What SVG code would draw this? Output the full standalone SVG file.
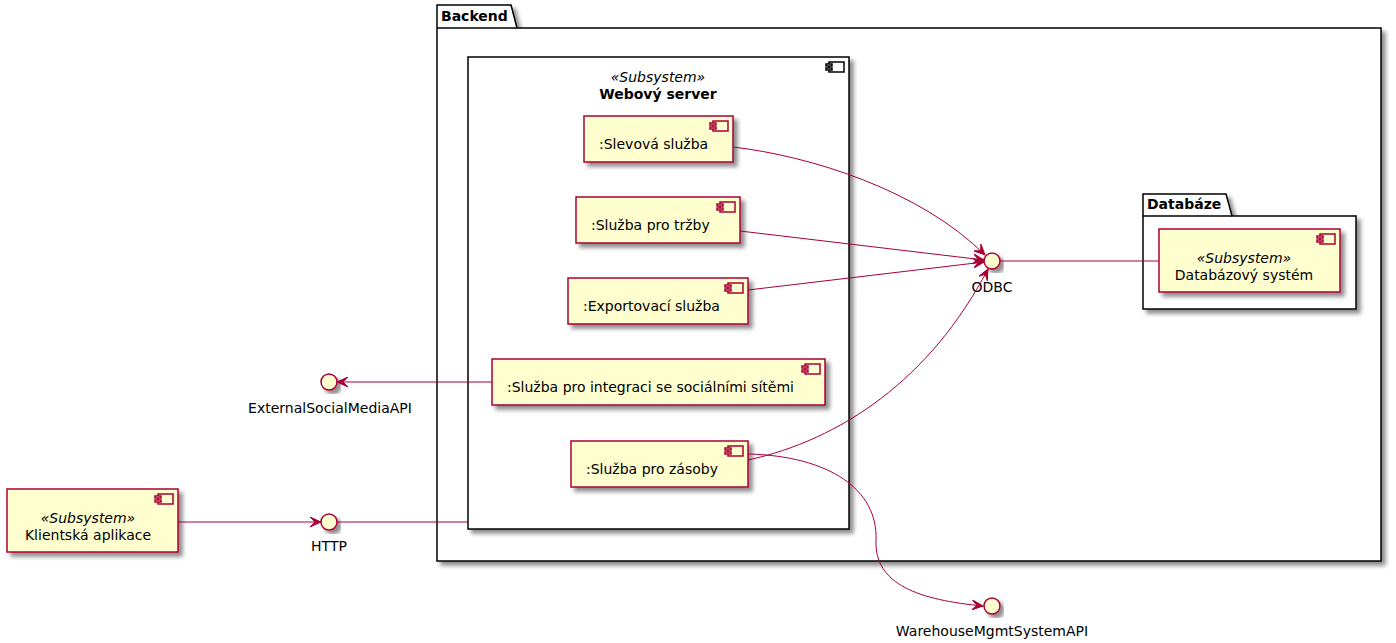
<svg xmlns="http://www.w3.org/2000/svg" width="1396" height="643" viewBox="0 0 1396 643">
<defs>
<filter id="sh" x="-10%" y="-10%" width="130%" height="130%">
<feGaussianBlur in="SourceAlpha" stdDeviation="2"/>
<feOffset dx="4" dy="4" result="b"/>
<feComponentTransfer><feFuncA type="linear" slope="0.45"/></feComponentTransfer>
<feMerge><feMergeNode/><feMergeNode in="SourceGraphic"/></feMerge>
</filter>
<marker id="arr" viewBox="0 0 12 10" refX="11" refY="5" markerWidth="12" markerHeight="10" markerUnits="userSpaceOnUse" orient="auto">
<path d="M0,0 L11,5 L0,10 L5,5 Z" fill="#A80036" stroke="#A80036" stroke-width="1"/>
</marker>
</defs>
<style>
text{font-family:"DejaVu Sans","Liberation Sans",sans-serif;font-size:14px;fill:#000}
.b{font-weight:bold}
.i{font-style:italic}
.pkg{fill:#fff;stroke:#000;stroke-width:1.5}
.cmp{fill:#FEFECE;stroke:#A80036;stroke-width:1.5}
.ic{fill:#FEFECE;stroke:#A80036;stroke-width:1.5}
.icb{fill:#fff;stroke:#000;stroke-width:1.5}
.ifc{fill:#FEFECE;stroke:#A80036;stroke-width:1.5}
.ln{fill:none;stroke:#A80036;stroke-width:1}
</style>

<g id="backend">
<path class="pkg" filter="url(#sh)" d="M437,5 L511,5 L517,28 L1381,28 L1381,561 L437,561 Z"/>
<line x1="437" y1="28" x2="517" y2="28" stroke="#000" stroke-width="1.5"/>
<text class="b" x="441" y="21">Backend</text>
</g>

<g id="webovy-server">
<rect class="pkg" filter="url(#sh)" x="468" y="57" width="381" height="472"/>
<rect class="icb" x="829" y="62" width="15" height="10"/>
<rect class="icb" x="826" y="64" width="6" height="2"/>
<rect class="icb" x="826" y="68" width="6" height="2"/>
<text class="i" x="658" y="82" text-anchor="middle">«Subsystem»</text>
<text class="b" x="658" y="99" text-anchor="middle">Webový server</text>
</g>

<g id="databaze">
<path class="pkg" filter="url(#sh)" d="M1143,194 L1226,194 L1232,216 L1356,216 L1356,309 L1143,309 Z"/>
<line x1="1143" y1="216" x2="1232" y2="216" stroke="#000" stroke-width="1.5"/>
<text class="b" x="1147" y="209">Databáze</text>
</g>

<g id="slevova">
<rect class="cmp" filter="url(#sh)" x="584" y="116" width="149" height="46"/>
<rect class="ic" x="713" y="121" width="15" height="10"/>
<rect class="ic" x="710" y="123" width="6" height="2"/>
<rect class="ic" x="710" y="127" width="6" height="2"/>
<text x="599" y="149">:Slevová služba</text>
</g>

<g id="trzby">
<rect class="cmp" filter="url(#sh)" x="576" y="197" width="164" height="46"/>
<rect class="ic" x="720" y="202" width="15" height="10"/>
<rect class="ic" x="717" y="204" width="6" height="2"/>
<rect class="ic" x="717" y="208" width="6" height="2"/>
<text x="591" y="230">:Služba pro tržby</text>
</g>

<g id="exportovaci">
<rect class="cmp" filter="url(#sh)" x="568" y="278" width="180" height="46"/>
<rect class="ic" x="728" y="283" width="15" height="10"/>
<rect class="ic" x="725" y="285" width="6" height="2"/>
<rect class="ic" x="725" y="289" width="6" height="2"/>
<text x="583" y="311">:Exportovací služba</text>
</g>

<g id="integrace">
<rect class="cmp" filter="url(#sh)" x="492" y="359" width="333" height="46"/>
<rect class="ic" x="805" y="364" width="15" height="10"/>
<rect class="ic" x="802" y="366" width="6" height="2"/>
<rect class="ic" x="802" y="370" width="6" height="2"/>
<text x="507" y="392">:Služba pro integraci se sociálními sítěmi</text>
</g>

<g id="zasoby">
<rect class="cmp" filter="url(#sh)" x="571" y="441" width="177" height="46"/>
<rect class="ic" x="728" y="446" width="15" height="10"/>
<rect class="ic" x="725" y="448" width="6" height="2"/>
<rect class="ic" x="725" y="452" width="6" height="2"/>
<text x="586" y="474">:Služba pro zásoby</text>
</g>

<g id="databazovy-system">
<rect class="cmp" filter="url(#sh)" x="1159" y="229" width="181" height="63"/>
<rect class="ic" x="1320" y="234" width="15" height="10"/>
<rect class="ic" x="1317" y="236" width="6" height="2"/>
<rect class="ic" x="1317" y="240" width="6" height="2"/>
<text class="i" x="1244" y="263" text-anchor="middle">«Subsystem»</text>
<text x="1244" y="280" text-anchor="middle">Databázový systém</text>
</g>

<g id="klientska">
<rect class="cmp" filter="url(#sh)" x="7" y="489" width="171" height="63"/>
<rect class="ic" x="158" y="494" width="15" height="10"/>
<rect class="ic" x="155" y="496" width="6" height="2"/>
<rect class="ic" x="155" y="500" width="6" height="2"/>
<text class="i" x="88" y="523" text-anchor="middle">«Subsystem»</text>
<text x="88" y="540" text-anchor="middle">Klientská aplikace</text>
</g>

<g id="odbc">
<circle class="ifc" filter="url(#sh)" cx="992" cy="261" r="8"/>
<text x="992" y="292" text-anchor="middle">ODBC</text>
</g>

<g id="http">
<circle class="ifc" filter="url(#sh)" cx="329" cy="522" r="8"/>
<text x="329" y="551" text-anchor="middle">HTTP</text>
</g>

<g id="external-social">
<circle class="ifc" filter="url(#sh)" cx="329" cy="382" r="8"/>
<text x="330" y="413" text-anchor="middle">ExternalSocialMediaAPI</text>
</g>

<g id="warehouse">
<circle class="ifc" filter="url(#sh)" cx="992" cy="606" r="8"/>
<text x="992" y="636" text-anchor="middle">WarehouseMgmtSystemAPI</text>
</g>

<g id="connectors">
<path class="ln" marker-end="url(#arr)" d="M733,147 C810,156 920,190 985,255"/>
<path class="ln" marker-end="url(#arr)" d="M740,231 L984,260"/>
<path class="ln" marker-end="url(#arr)" d="M748,290 L984,262"/>
<path class="ln" marker-end="url(#arr)" d="M748,460 C840,440 930,380 988,269"/>
<path class="ln" marker-end="url(#arr)" d="M748,454 C830,456 878,490 876,540 C874,585 920,600 983,606"/>
<path class="ln" marker-end="url(#arr)" d="M492,382 L337,382"/>
<path class="ln" d="M1000,261 L1159,261"/>
<path class="ln" marker-end="url(#arr)" d="M178,522 L321,522"/>
<path class="ln" d="M337,522 L468,522"/>
</g>
</svg>
